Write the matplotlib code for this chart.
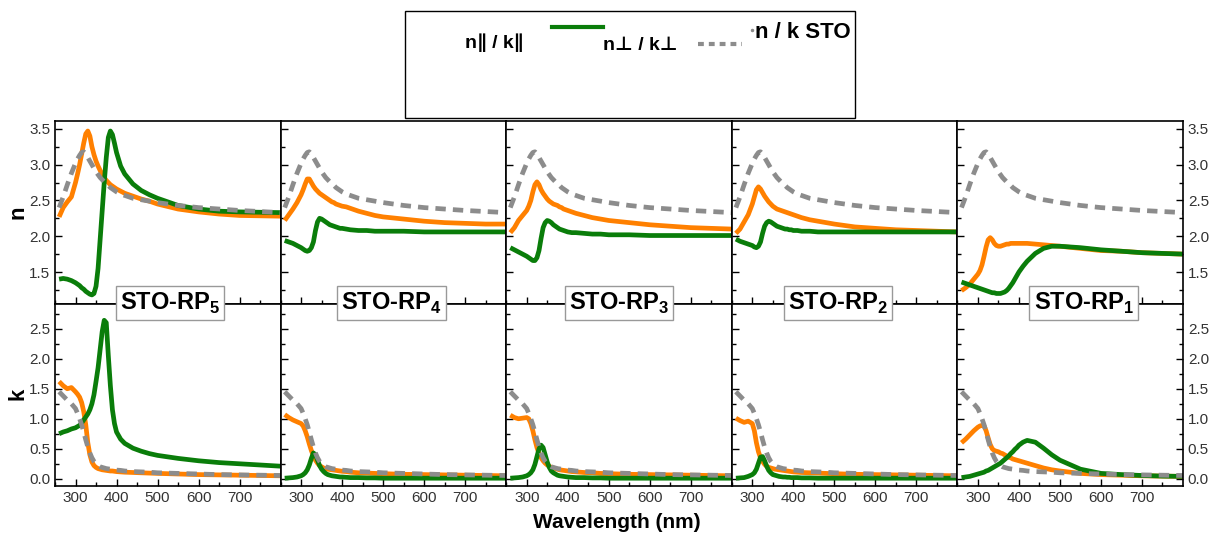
import matplotlib
matplotlib.use('Agg')
import matplotlib.pyplot as plt
from matplotlib.lines import Line2D
from matplotlib.patches import Rectangle
from matplotlib.ticker import MultipleLocator, FixedLocator

plt.rcParams['font.family'] = ['Liberation Sans', 'DejaVu Sans']
plt.rcParams['mathtext.fontset'] = 'custom'
plt.rcParams['mathtext.rm'] = 'Liberation Sans'
plt.rcParams['mathtext.bf'] = 'Liberation Sans:bold'

# wavelength grid (nm)
wl = [260, 270, 280, 290, 300, 305, 310, 315, 320, 325, 330, 335, 340, 345, 350,
      355, 360, 365, 370, 375, 380, 385, 390, 395, 400, 410, 420, 440, 460, 480,
      500, 550, 600, 650, 700, 750, 800]

# bulk STO reference
sto_n = [2.40, 2.55, 2.72, 2.88, 3.02, 3.08, 3.13, 3.17, 3.18, 3.15, 3.10, 3.05, 3.00, 2.95, 2.90,
         2.86, 2.82, 2.79, 2.76, 2.73, 2.71, 2.68, 2.66, 2.64, 2.62, 2.59, 2.57, 2.53, 2.51, 2.49,
         2.47, 2.43, 2.40, 2.38, 2.36, 2.345, 2.33]
sto_k = [1.45, 1.38, 1.31, 1.25, 1.17, 1.09, 1.00, 0.90, 0.78, 0.65, 0.53, 0.43, 0.35, 0.29, 0.25,
         0.22, 0.20, 0.19, 0.18, 0.17, 0.165, 0.16, 0.155, 0.15, 0.145, 0.14, 0.13, 0.12, 0.115, 0.11,
         0.10, 0.09, 0.08, 0.07, 0.065, 0.06, 0.055]

# STO-RP5
n_par_rp5 = [2.27, 2.40, 2.48, 2.55, 2.75, 2.87, 3.00, 3.15, 3.30, 3.43, 3.47, 3.40, 3.25, 3.14, 3.05,
             2.98, 2.92, 2.87, 2.82, 2.78, 2.75, 2.72, 2.70, 2.68, 2.66, 2.63, 2.60, 2.56, 2.52, 2.49,
             2.45, 2.38, 2.34, 2.31, 2.29, 2.285, 2.28]
n_perp_rp5 = [1.40, 1.41, 1.40, 1.38, 1.35, 1.33, 1.31, 1.28, 1.26, 1.23, 1.21, 1.19, 1.18, 1.20, 1.30,
              1.55, 1.95, 2.35, 2.75, 3.10, 3.38, 3.47, 3.42, 3.30, 3.17, 2.98, 2.87, 2.73, 2.64, 2.58,
              2.53, 2.43, 2.38, 2.35, 2.34, 2.335, 2.33]
k_par_rp5 = [1.62, 1.55, 1.50, 1.52, 1.45, 1.41, 1.36, 1.27, 1.12, 0.90, 0.60, 0.40, 0.28, 0.22, 0.19,
             0.17, 0.16, 0.15, 0.145, 0.14, 0.135, 0.13, 0.13, 0.125, 0.12, 0.115, 0.11, 0.105, 0.10, 0.095,
             0.09, 0.08, 0.07, 0.065, 0.06, 0.055, 0.05]
k_perp_rp5 = [0.75, 0.78, 0.80, 0.83, 0.85, 0.87, 0.89, 0.93, 0.98, 1.03, 1.08, 1.15, 1.25, 1.40, 1.62,
              1.85, 2.15, 2.45, 2.64, 2.60, 2.05, 1.55, 1.15, 0.92, 0.78, 0.66, 0.59, 0.51, 0.46, 0.42,
              0.39, 0.34, 0.30, 0.27, 0.25, 0.23, 0.21]

# STO-RP4
n_par_rp4 = [2.22, 2.30, 2.38, 2.47, 2.58, 2.65, 2.73, 2.80, 2.80, 2.75, 2.70, 2.66, 2.63, 2.60, 2.58,
             2.56, 2.54, 2.52, 2.50, 2.48, 2.47, 2.45, 2.44, 2.43, 2.42, 2.41, 2.39, 2.35, 2.32, 2.29,
             2.27, 2.24, 2.21, 2.19, 2.18, 2.17, 2.17]
n_perp_rp4 = [1.94, 1.92, 1.90, 1.87, 1.84, 1.82, 1.80, 1.79, 1.80, 1.84, 1.92, 2.08, 2.20, 2.25, 2.24,
              2.22, 2.20, 2.18, 2.16, 2.15, 2.14, 2.13, 2.12, 2.11, 2.11, 2.10, 2.09, 2.08, 2.08, 2.07,
              2.07, 2.07, 2.06, 2.06, 2.06, 2.06, 2.06]
k_par_rp4 = [1.07, 1.02, 0.98, 0.95, 0.92, 0.88, 0.80, 0.70, 0.58, 0.47, 0.38, 0.31, 0.26, 0.22, 0.20,
             0.18, 0.17, 0.16, 0.155, 0.15, 0.145, 0.14, 0.135, 0.13, 0.125, 0.12, 0.11, 0.10, 0.095, 0.09,
             0.085, 0.075, 0.07, 0.065, 0.06, 0.055, 0.05]
k_perp_rp4 = [0.01, 0.015, 0.02, 0.03, 0.05, 0.07, 0.10, 0.15, 0.23, 0.34, 0.43, 0.40, 0.31, 0.22, 0.16,
              0.12, 0.09, 0.07, 0.06, 0.05, 0.045, 0.04, 0.035, 0.03, 0.03, 0.025, 0.02, 0.02, 0.015, 0.015,
              0.01, 0.01, 0.01, 0.01, 0.01, 0.01, 0.01]

# STO-RP3
n_par_rp3 = [2.05, 2.12, 2.22, 2.29, 2.36, 2.42, 2.50, 2.62, 2.72, 2.76, 2.72, 2.65, 2.60, 2.56, 2.52,
             2.49, 2.47, 2.45, 2.44, 2.43, 2.41, 2.40, 2.38, 2.37, 2.36, 2.34, 2.32, 2.29, 2.26, 2.24,
             2.22, 2.19, 2.16, 2.14, 2.12, 2.11, 2.10]
n_perp_rp3 = [1.84, 1.81, 1.78, 1.75, 1.72, 1.70, 1.68, 1.66, 1.66, 1.70, 1.80, 1.97, 2.12, 2.19, 2.22,
              2.21, 2.19, 2.16, 2.14, 2.12, 2.10, 2.09, 2.08, 2.07, 2.06, 2.05, 2.05, 2.04, 2.03, 2.03,
              2.02, 2.02, 2.01, 2.01, 2.01, 2.01, 2.01]
k_par_rp3 = [1.06, 1.02, 1.00, 1.01, 1.02, 1.00, 0.92, 0.80, 0.65, 0.52, 0.42, 0.35, 0.30, 0.26, 0.23,
             0.21, 0.19, 0.18, 0.17, 0.16, 0.15, 0.145, 0.14, 0.135, 0.13, 0.12, 0.115, 0.105, 0.10, 0.09,
             0.085, 0.075, 0.07, 0.065, 0.06, 0.055, 0.05]
k_perp_rp3 = [0.01, 0.015, 0.02, 0.03, 0.05, 0.07, 0.10, 0.15, 0.24, 0.37, 0.50, 0.56, 0.52, 0.40, 0.28,
              0.19, 0.13, 0.10, 0.08, 0.06, 0.05, 0.045, 0.04, 0.035, 0.03, 0.025, 0.02, 0.02, 0.015, 0.015,
              0.01, 0.01, 0.01, 0.01, 0.01, 0.01, 0.01]

# STO-RP2
n_par_rp2 = [2.04, 2.10, 2.20, 2.30, 2.45, 2.55, 2.65, 2.69, 2.66, 2.61, 2.56, 2.52, 2.48, 2.45, 2.42,
             2.40, 2.38, 2.37, 2.36, 2.35, 2.34, 2.33, 2.32, 2.31, 2.30, 2.28, 2.26, 2.23, 2.21, 2.19,
             2.17, 2.13, 2.11, 2.09, 2.08, 2.07, 2.06]
n_perp_rp2 = [1.96, 1.93, 1.91, 1.89, 1.87, 1.85, 1.84, 1.86, 1.92, 2.04, 2.14, 2.19, 2.21, 2.20, 2.18,
              2.16, 2.14, 2.13, 2.12, 2.11, 2.10, 2.10, 2.09, 2.09, 2.08, 2.08, 2.07, 2.07, 2.06, 2.06,
              2.06, 2.06, 2.06, 2.06, 2.06, 2.06, 2.06]
k_par_rp2 = [1.01, 0.97, 0.94, 0.96, 0.92, 0.80, 0.60, 0.45, 0.35, 0.29, 0.24, 0.21, 0.19, 0.18, 0.17,
             0.16, 0.155, 0.15, 0.145, 0.14, 0.135, 0.13, 0.125, 0.12, 0.115, 0.11, 0.105, 0.10, 0.095, 0.09,
             0.085, 0.075, 0.07, 0.065, 0.06, 0.055, 0.05]
k_perp_rp2 = [0.01, 0.015, 0.02, 0.04, 0.07, 0.10, 0.16, 0.26, 0.36, 0.37, 0.30, 0.21, 0.14, 0.10, 0.07,
              0.06, 0.05, 0.04, 0.035, 0.03, 0.03, 0.025, 0.025, 0.02, 0.02, 0.02, 0.015, 0.015, 0.01, 0.01,
              0.01, 0.01, 0.01, 0.01, 0.01, 0.01, 0.01]

# STO-RP1
n_par_rp1 = [1.24, 1.28, 1.33, 1.40, 1.47, 1.52, 1.60, 1.72, 1.85, 1.95, 1.98, 1.95, 1.90, 1.87, 1.86,
             1.86, 1.87, 1.88, 1.89, 1.89, 1.90, 1.90, 1.90, 1.90, 1.90, 1.90, 1.90, 1.89, 1.88, 1.87,
             1.86, 1.83, 1.80, 1.79, 1.77, 1.76, 1.75]
n_perp_rp1 = [1.36, 1.34, 1.32, 1.30, 1.28, 1.27, 1.26, 1.25, 1.24, 1.23, 1.22, 1.21, 1.21, 1.20, 1.20,
              1.20, 1.21, 1.22, 1.24, 1.27, 1.31, 1.35, 1.40, 1.45, 1.50, 1.58, 1.65, 1.76, 1.83, 1.86,
              1.86, 1.84, 1.81, 1.79, 1.77, 1.76, 1.75]
k_par_rp1 = [0.60, 0.66, 0.73, 0.80, 0.86, 0.88, 0.89, 0.88, 0.80, 0.68, 0.57, 0.50, 0.47, 0.46, 0.45,
             0.43, 0.42, 0.40, 0.38, 0.36, 0.35, 0.33, 0.32, 0.31, 0.30, 0.28, 0.26, 0.22, 0.18, 0.15,
             0.13, 0.09, 0.07, 0.06, 0.05, 0.045, 0.04]
k_perp_rp1 = [0.02, 0.03, 0.04, 0.06, 0.08, 0.09, 0.10, 0.11, 0.13, 0.14, 0.16, 0.18, 0.20, 0.22, 0.24,
              0.26, 0.29, 0.32, 0.35, 0.38, 0.42, 0.45, 0.49, 0.52, 0.56, 0.61, 0.64, 0.61, 0.51, 0.40,
              0.31, 0.16, 0.09, 0.07, 0.055, 0.045, 0.04]

labels = ['STO-RP$_\\mathbf{5}$', 'STO-RP$_\\mathbf{4}$', 'STO-RP$_\\mathbf{3}$',
          'STO-RP$_\\mathbf{2}$', 'STO-RP$_\\mathbf{1}$']
n_series = [(n_par_rp5, n_perp_rp5), (n_par_rp4, n_perp_rp4), (n_par_rp3, n_perp_rp3),
            (n_par_rp2, n_perp_rp2), (n_par_rp1, n_perp_rp1)]
k_series = [(k_par_rp5, k_perp_rp5), (k_par_rp4, k_perp_rp4), (k_par_rp3, k_perp_rp3),
            (k_par_rp2, k_perp_rp2), (k_par_rp1, k_perp_rp1)]
label_x = [0.51, 0.49, 0.50, 0.47, 0.56]
x_major = [300, 400, 500, 600, 700]
x_minor = [250, 350, 450, 550, 650, 750]

c_par = '#ff8000'
c_perp = '#0a7d0a'
c_sto = '#8c8c8c'
tick_col = '#333333'
lw = 3.4
dash = (2.2, 1.5)

W, H = 1212, 539
fig, axes = plt.subplots(2, 5, figsize=(W / 100, H / 100), dpi=100)
fig.subplots_adjust(left=55 / W, right=1183 / W, top=1 - 121 / H, bottom=1 - 486 / H,
                    hspace=0, wspace=0)

for i in range(5):
    for row, (ser, sto) in enumerate([(n_series[i], sto_n), (k_series[i], sto_k)]):
        ax = axes[row, i]
        ax.plot(wl, ser[0], color=c_par, lw=lw, solid_capstyle='butt')
        ax.plot(wl, ser[1], color=c_perp, lw=lw, solid_capstyle='butt')
        ax.plot(wl, sto, color=c_sto, lw=lw, dashes=dash)
        ax.set_xlim(250, 800)
        if row == 0:
            ax.set_ylim(1.06, 3.61)
        else:
            ax.set_ylim(-0.12, 2.92)
        ax.xaxis.set_major_locator(FixedLocator(x_major))
        ax.xaxis.set_minor_locator(FixedLocator(x_minor))
        ax.yaxis.set_major_locator(MultipleLocator(0.5))
        ax.yaxis.set_minor_locator(MultipleLocator(0.25))
        ax.tick_params(which='both', direction='in', top=False, right=(i == 4),
                       labelleft=(i == 0), labelright=(i == 4),
                       labelbottom=(row == 1), labelsize=11, labelcolor=tick_col,
                       width=1)
        ax.tick_params(which='major', length=5)
        ax.tick_params(which='minor', length=3)
        for sp in ax.spines.values():
            sp.set_linewidth(1.2)

# axis titles
fig.text(18 / W, 1 - 212 / H, 'n', rotation=90, ha='center', va='center',
         fontsize=16, fontweight='bold')
fig.text(18 / W, 1 - 394 / H, 'k', rotation=90, ha='center', va='center',
         fontsize=16, fontweight='bold')
fig.text(617 / W, 1 - 522 / H, 'Wavelength (nm)', ha='center', va='center',
         fontsize=15, fontweight='bold')

# sample labels straddling the n/k boundary
for i in range(5):
    pos = axes[1, i].get_position()
    x = pos.x0 + label_x[i] * pos.width
    fig.text(x, 1 - 303 / H, labels[i], ha='center', va='center', fontsize=17,
             fontweight='bold', zorder=10,
             bbox=dict(boxstyle='square,pad=0.18', facecolor='white', edgecolor='#999999', lw=1))

# legend box
fig.add_artist(Rectangle((405 / W, 1 - 118 / H), 450 / W, 107 / H, transform=fig.transFigure,
                         fill=False, edgecolor='black', lw=1))
fig.text(465 / W, 1 - 43 / H, 'n\u2225 / k\u2225', ha='left', va='center', fontsize=14,
         fontweight='bold')
fig.add_artist(Line2D([552 / W, 603 / W], [1 - 27 / H, 1 - 27 / H], color=c_perp, lw=3,
                      transform=fig.transFigure))
fig.text(603 / W, 1 - 45 / H, 'n\u22a5 / k\u22a5', ha='left', va='center', fontsize=14,
         fontweight='bold')
fig.add_artist(Line2D([698 / W, 742 / W], [1 - 44 / H, 1 - 44 / H], color=c_sto, lw=3,
                      dashes=(1.4, 1.2), transform=fig.transFigure))
fig.add_artist(Line2D([752 / W], [1 - 30 / H], color=c_sto, marker='o', ms=1.5, lw=0,
                      transform=fig.transFigure))
fig.text(755 / W, 1 - 32 / H, 'n / k STO', ha='left', va='center', fontsize=16,
         fontweight='bold')

fig.savefig('out.png', dpi=100)
